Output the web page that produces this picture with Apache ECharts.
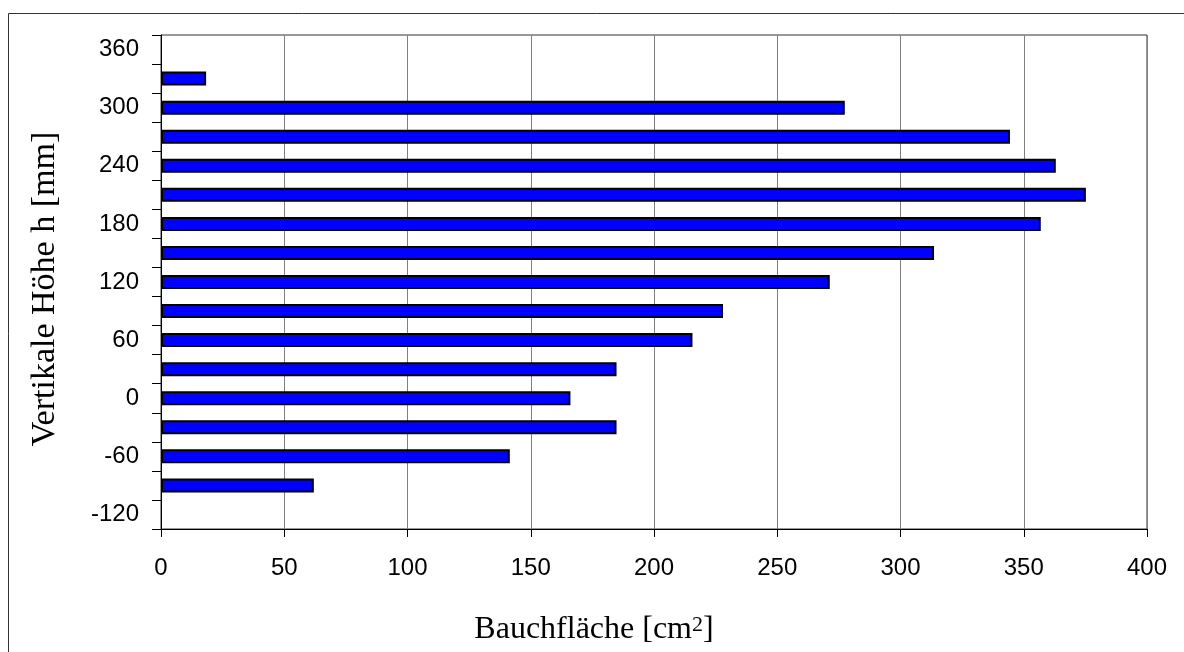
<!DOCTYPE html>
<html>
<head>
<meta charset="utf-8">
<script src="https://cdn.jsdelivr.net/npm/echarts@6/dist/echarts.min.js"></script>
<style>
  html, body { margin: 0; padding: 0; background: #fff; }
  #chart { width: 1184px; height: 652px; }
</style>
</head>
<body>
<div id="chart"></div>
<script>
// Höhe in mm (Kategorien von unten nach oben)
const heights = ['-120', '-90', '-60', '-30', '0', '30', '60', '90', '120', '150', '180', '210', '240', '270', '300', '330', '360']
// Bauchfläche in cm² je Höhe
const areas = [null, 62, 141.5, 184.8, 166.1, 184.8, 215.6, 228, 271.3, 313.6, 356.9, 375.2, 363, 344.4, 277.4, 18.3, null]
const xTicks = [0, 50, 100, 150, 200, 250, 300, 350, 400]

const chart = echarts.init(document.getElementById('chart'))

const tickFont = { fontFamily: 'Liberation Sans', fontSize: 24, color: '#000' }

chart.setOption({
  animation: false,
  grid: {
    left: 161, right: 37, top: 35, bottom: 123,
    show: true, borderColor: '#333', borderWidth: 1,
  },
  xAxis: {
    type: 'value',
    min: xTicks[0],
    max: xTicks[xTicks.length - 1],
    interval: 50,
    axisLine: { show: true, lineStyle: { color: '#000', width: 1 } },
    axisTick: { show: true, inside: false, length: 8, lineStyle: { color: '#000' } },
    axisLabel: { ...tickFont, margin: 27 },
    splitLine: { show: true, lineStyle: { color: '#808080', width: 1 } },
  },
  yAxis: {
    type: 'category',
    data: heights,
    boundaryGap: true,
    axisLine: { show: true, lineStyle: { color: '#000', width: 1 } },
    axisTick: { show: true, inside: false, length: 9, interval: 0, alignWithLabel: false, lineStyle: { color: '#000' } },
    axisLabel: { ...tickFont, interval: 1, margin: 22 },
    splitLine: { show: false },
  },
  series: [{
    type: 'bar',
    data: areas,
    barWidth: 14,
    itemStyle: { color: '#0000ff', borderColor: '#000', borderWidth: 2 },
  }],
  graphic: [
    {
      type: 'rect', silent: true, z: -10,
      shape: { x: 8.5, y: 13.5, width: 1400, height: 900 },
      style: { fill: 'none', stroke: '#333', lineWidth: 1 },
    },
    {
      type: 'text', silent: true,
      x: 594, y: 630,
      style: {
        text: '{a|Bauchfläche [cm}{s|2}{a|]}',
        align: 'center', verticalAlign: 'middle',
        rich: {
          a: { fontFamily: 'Liberation Serif', fontSize: 32, fill: '#000', color: '#000' },
          s: { fontFamily: 'Liberation Serif', fontSize: 22, verticalAlign: 'top', fill: '#000', color: '#000' },
        },
      },
    },
    {
      type: 'text', silent: true,
      x: 45, y: 289, rotation: Math.PI / 2,
      style: {
        text: 'Vertikale Höhe h [mm]',
        fontFamily: 'Liberation Serif', fontSize: 34, fill: '#000',
        align: 'center', verticalAlign: 'middle',
      },
    },
  ],
})
</script>
</body>
</html>
